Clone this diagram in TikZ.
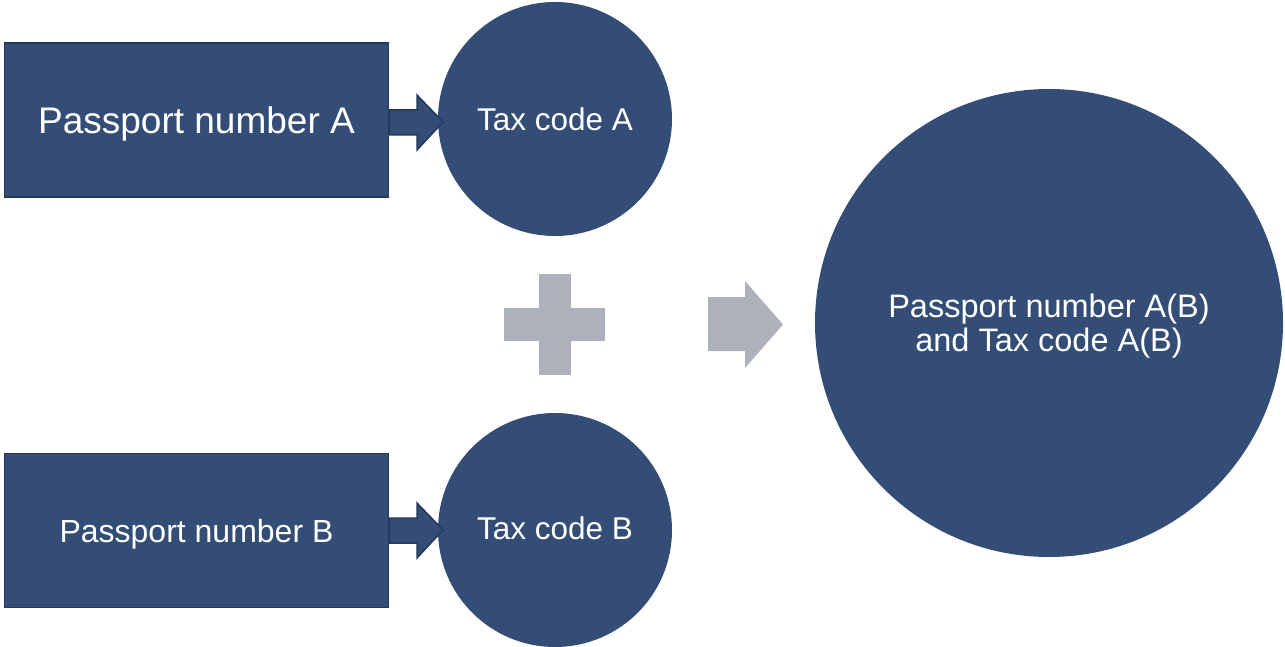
\documentclass[tikz,border=0pt]{standalone}
\usepackage{fontspec}
\setmainfont{Liberation Sans}
\definecolor{navy}{HTML}{334D77}
\definecolor{navyedge}{HTML}{243A5C}
\definecolor{greyshape}{HTML}{ADB1BC}
\begin{document}
\begin{tikzpicture}[x=1pt,y=-1pt,
  idbox/.style={draw=navyedge,line width=1.5pt,fill=navy,minimum width=384pt,minimum height=154pt,inner sep=0pt},
  taxdisc/.style={circle,fill=navy,minimum size=234pt,inner sep=0pt},
  whitelabel/.style={text=white,align=center},
  bluearrow/.style={fill=navy,draw=navyedge,line width=1.5pt,line join=miter},
  greyfill/.style={fill=greyshape}]
\useasboundingbox (0,0) rectangle (1285,647);
% identity boxes
\node[idbox] (pa) at (196.5,120) {};
\node[whitelabel,font=\fontsize{37}{44}\selectfont] (palabel) at ([yshift=-4pt]pa.center) {Passport number A};
\node[idbox] (pb) at (196.5,530.5) {};
\node[whitelabel,font=\fontsize{32}{38}\selectfont] (pblabel) at ([yshift=-4pt]pb.center) {Passport number B};
% tax code discs
\node[taxdisc] (ta) at (555,119) {};
\node[whitelabel,font=\fontsize{31.5}{37}\selectfont] (talabel) at (ta.center) {Tax code A};
\node[taxdisc] (tb) at (555,530) {};
\node[whitelabel,font=\fontsize{31.5}{37}\selectfont] (tblabel) at ([yshift=2pt]tb.center) {Tax code B};
% combined result
\node[circle,fill=navy,minimum size=468pt,inner sep=0pt] (res) at (1049,323) {};
\node[whitelabel,font=\fontsize{32.5}{34}\selectfont] (reslabel) at ([yshift=-3pt]res.center) {Passport number A(B)\\and Tax code A(B)};
% block arrows from boxes to discs
\draw[bluearrow] (pa.east |- 0,110) -- (417,110) -- (417,95) -- (443,122) -- (417,150) -- (417,135) -- (pa.east |- 0,135) -- cycle;
\draw[bluearrow] (pb.east |- 0,518) -- (417,518) -- (417,503) -- (443,530) -- (417,558) -- (417,543) -- (pb.east |- 0,543) -- cycle;
% plus sign
\fill[greyfill] (539,274) rectangle (571,375);
\fill[greyfill] (504,308) rectangle (605,341);
% grey arrow towards the result
\fill[greyfill] (708,297) -- (745,297) -- (745,281) -- (783,324.5) -- (745,368) -- (745,351) -- (708,351) -- cycle;
\end{tikzpicture}
\end{document}
